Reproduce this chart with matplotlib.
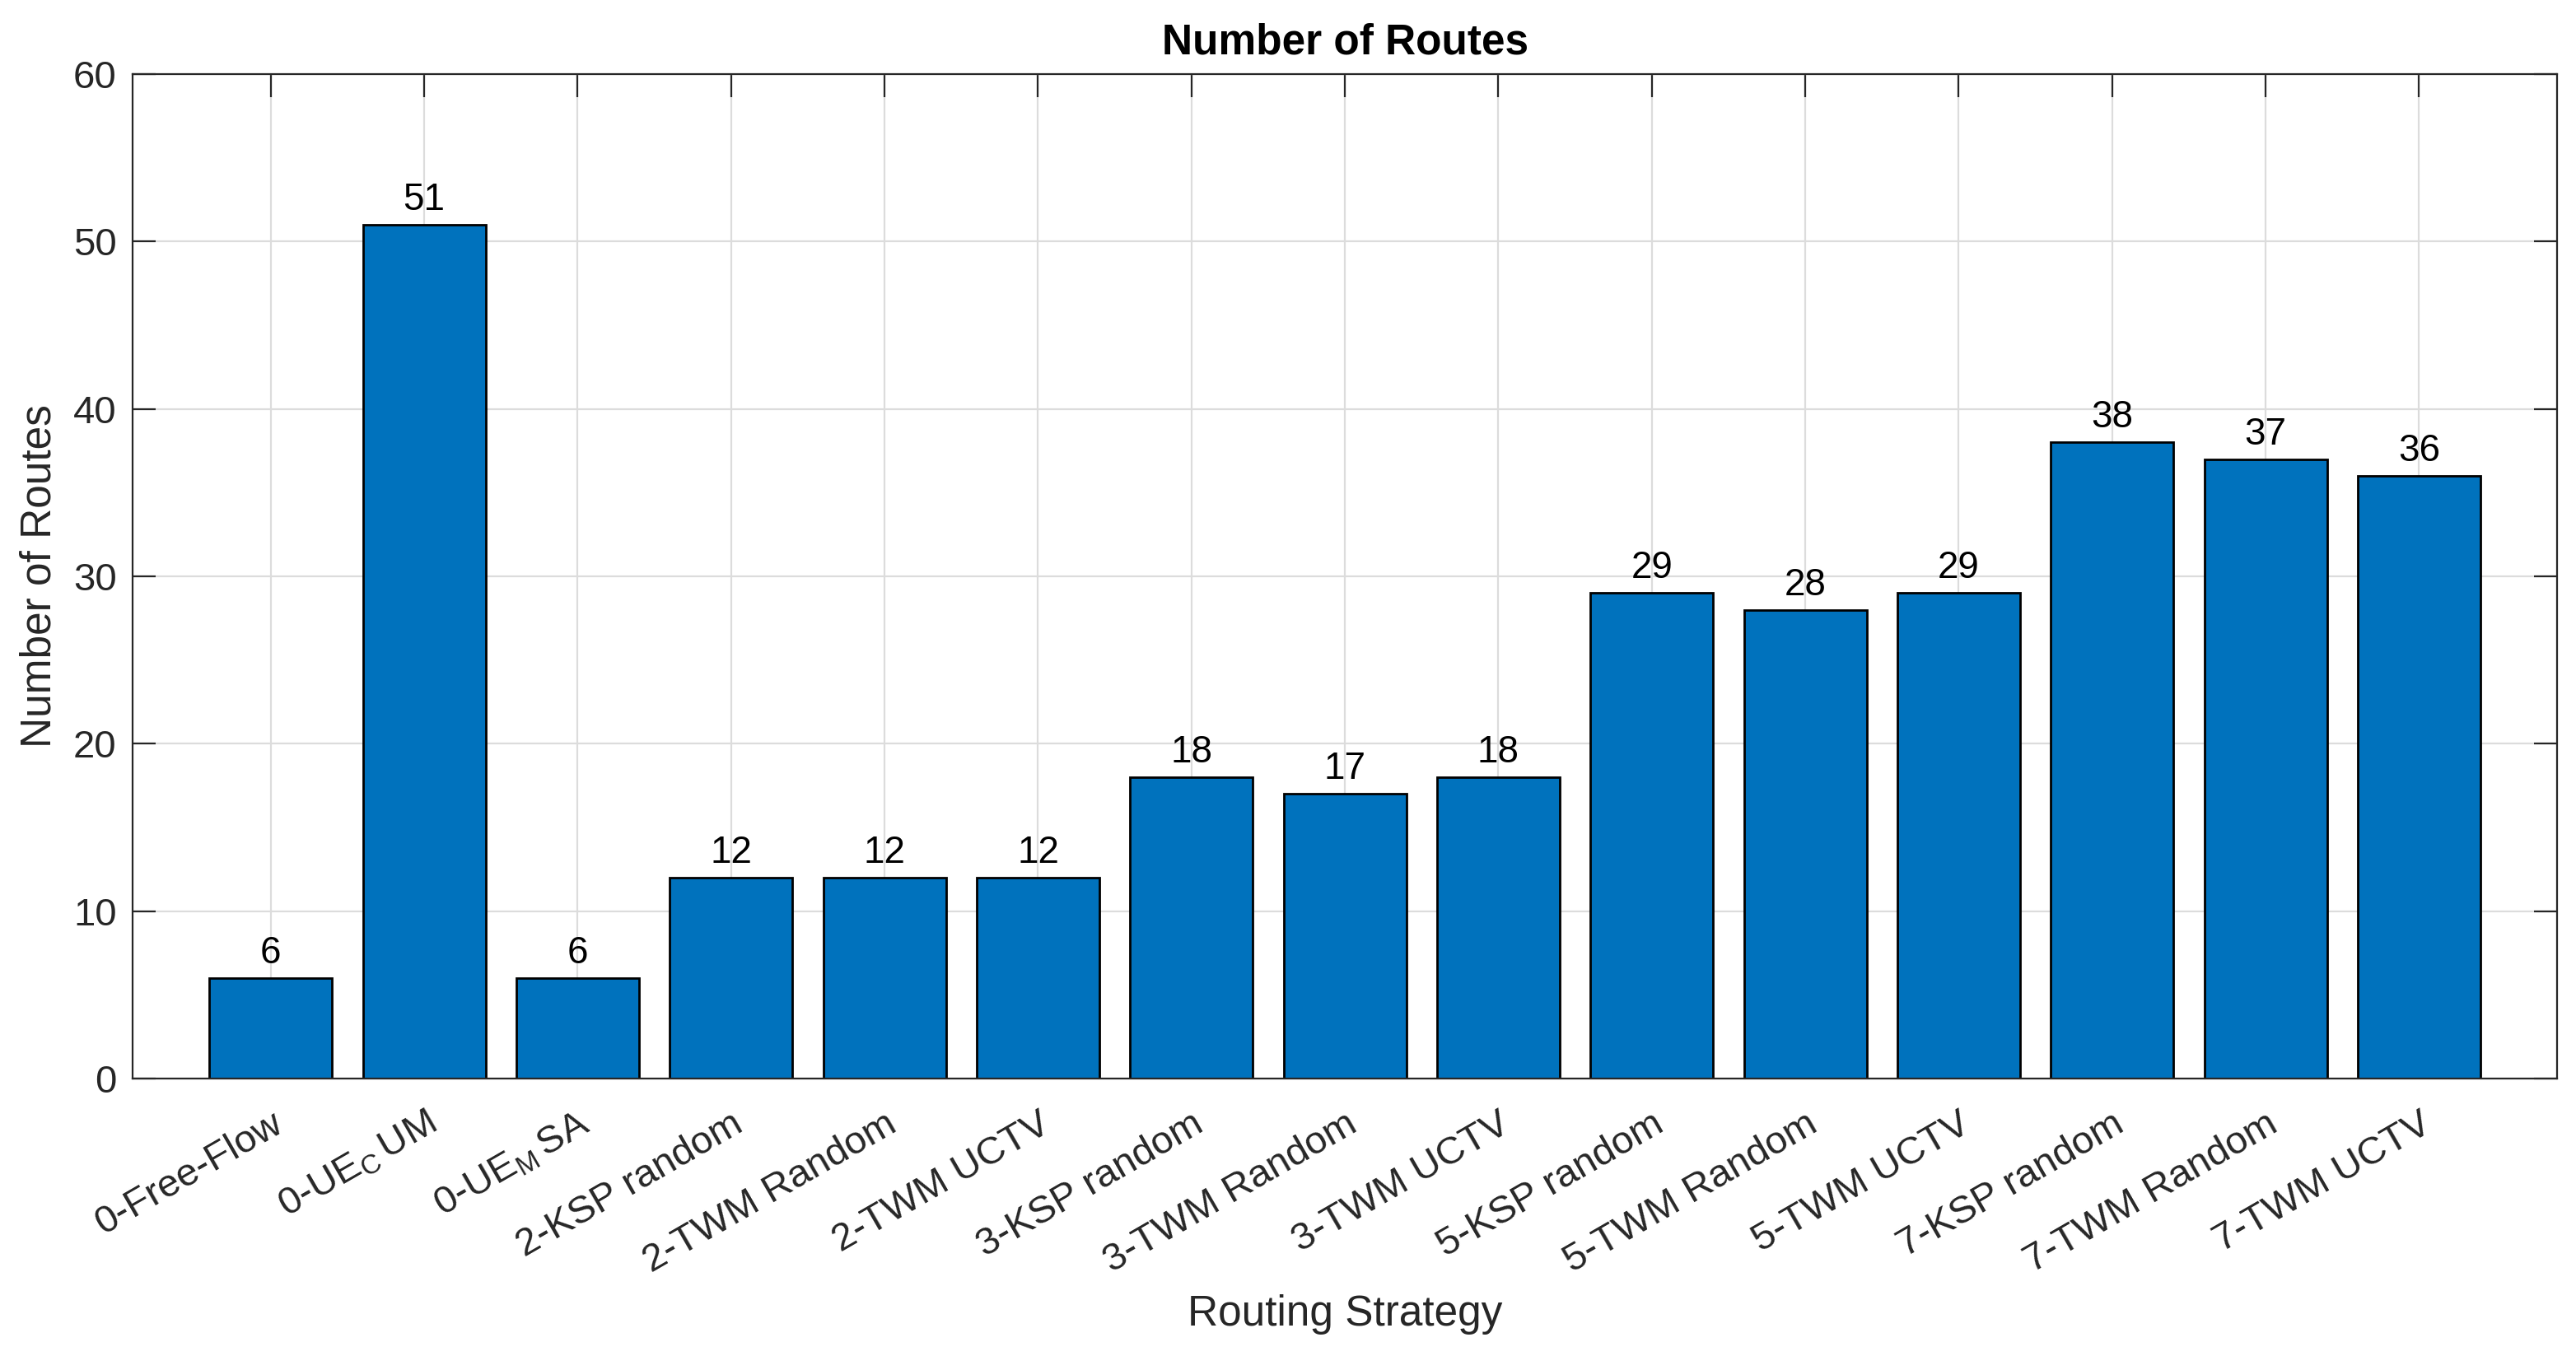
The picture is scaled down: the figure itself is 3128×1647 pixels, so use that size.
import matplotlib.pyplot as plt
import numpy as np

# Data
strategies = ['0-Free-Flow', r'0-UE$_\mathregular{C}\,$UM', r'0-UE$_\mathregular{M}\,$SA',
              '2-KSP random', '2-TWM Random', '2-TWM UCTV',
              '3-KSP random', '3-TWM Random', '3-TWM UCTV',
              '5-KSP random', '5-TWM Random', '5-TWM UCTV',
              '7-KSP random', '7-TWM Random', '7-TWM UCTV']
routes = [6, 51, 6, 12, 12, 12, 18, 17, 18, 29, 28, 29, 38, 37, 36]
yticks = [0, 10, 20, 30, 40, 50, 60]

plt.rcParams['font.family'] = ['Liberation Sans', 'DejaVu Sans']
plt.rcParams['mathtext.fontset'] = 'custom'
plt.rcParams['mathtext.rm'] = 'Liberation Sans'

dark = '#262626'

fig = plt.figure(figsize=(15.64, 8.235), dpi=200)
ax = fig.add_axes([0.0515, 0.2046, 0.9412, 0.7407])

x = np.arange(1, len(routes) + 1)
bars = ax.bar(x, routes, width=0.8, color='#0072BD', edgecolor='black',
              linewidth=1.0, zorder=3)

# value labels on top of the bars
for xi, v in zip(x, routes):
    ax.text(xi, v + 0.4, str(v), ha='center', va='bottom', fontsize=16.5,
            color='black', zorder=4)

ax.set_xlim(0.1, 15.9)
ax.set_ylim(0, 60)
ax.set_yticks(yticks)
ax.set_xticks(x)
ax.set_xticklabels(strategies, rotation=30, ha='right', rotation_mode='anchor',
                   fontsize=17, color=dark)
ax.tick_params(axis='y', labelsize=17, labelcolor=dark, pad=7)
ax.tick_params(direction='in', length=10, width=0.8, color=dark,
               top=True, right=True)
ax.tick_params(axis='x', pad=12)

ax.grid(True, color='#dcdcdc', linewidth=0.8, zorder=0)
ax.set_axisbelow(True)
for s in ax.spines.values():
    s.set_color(dark)
    s.set_linewidth(0.8)
    s.set_zorder(5)

ax.set_title('Number of Routes', fontsize=18.5, fontweight='bold', color='black', pad=9)
ax.set_xlabel('Routing Strategy', fontsize=18.5, color=dark)
ax.set_ylabel('Number of Routes', fontsize=18.5, color=dark)
ax.xaxis.set_label_coords(0.5, -0.215)
ax.yaxis.set_label_coords(-0.03, 0.5)

fig.savefig('out.png', dpi=200)
